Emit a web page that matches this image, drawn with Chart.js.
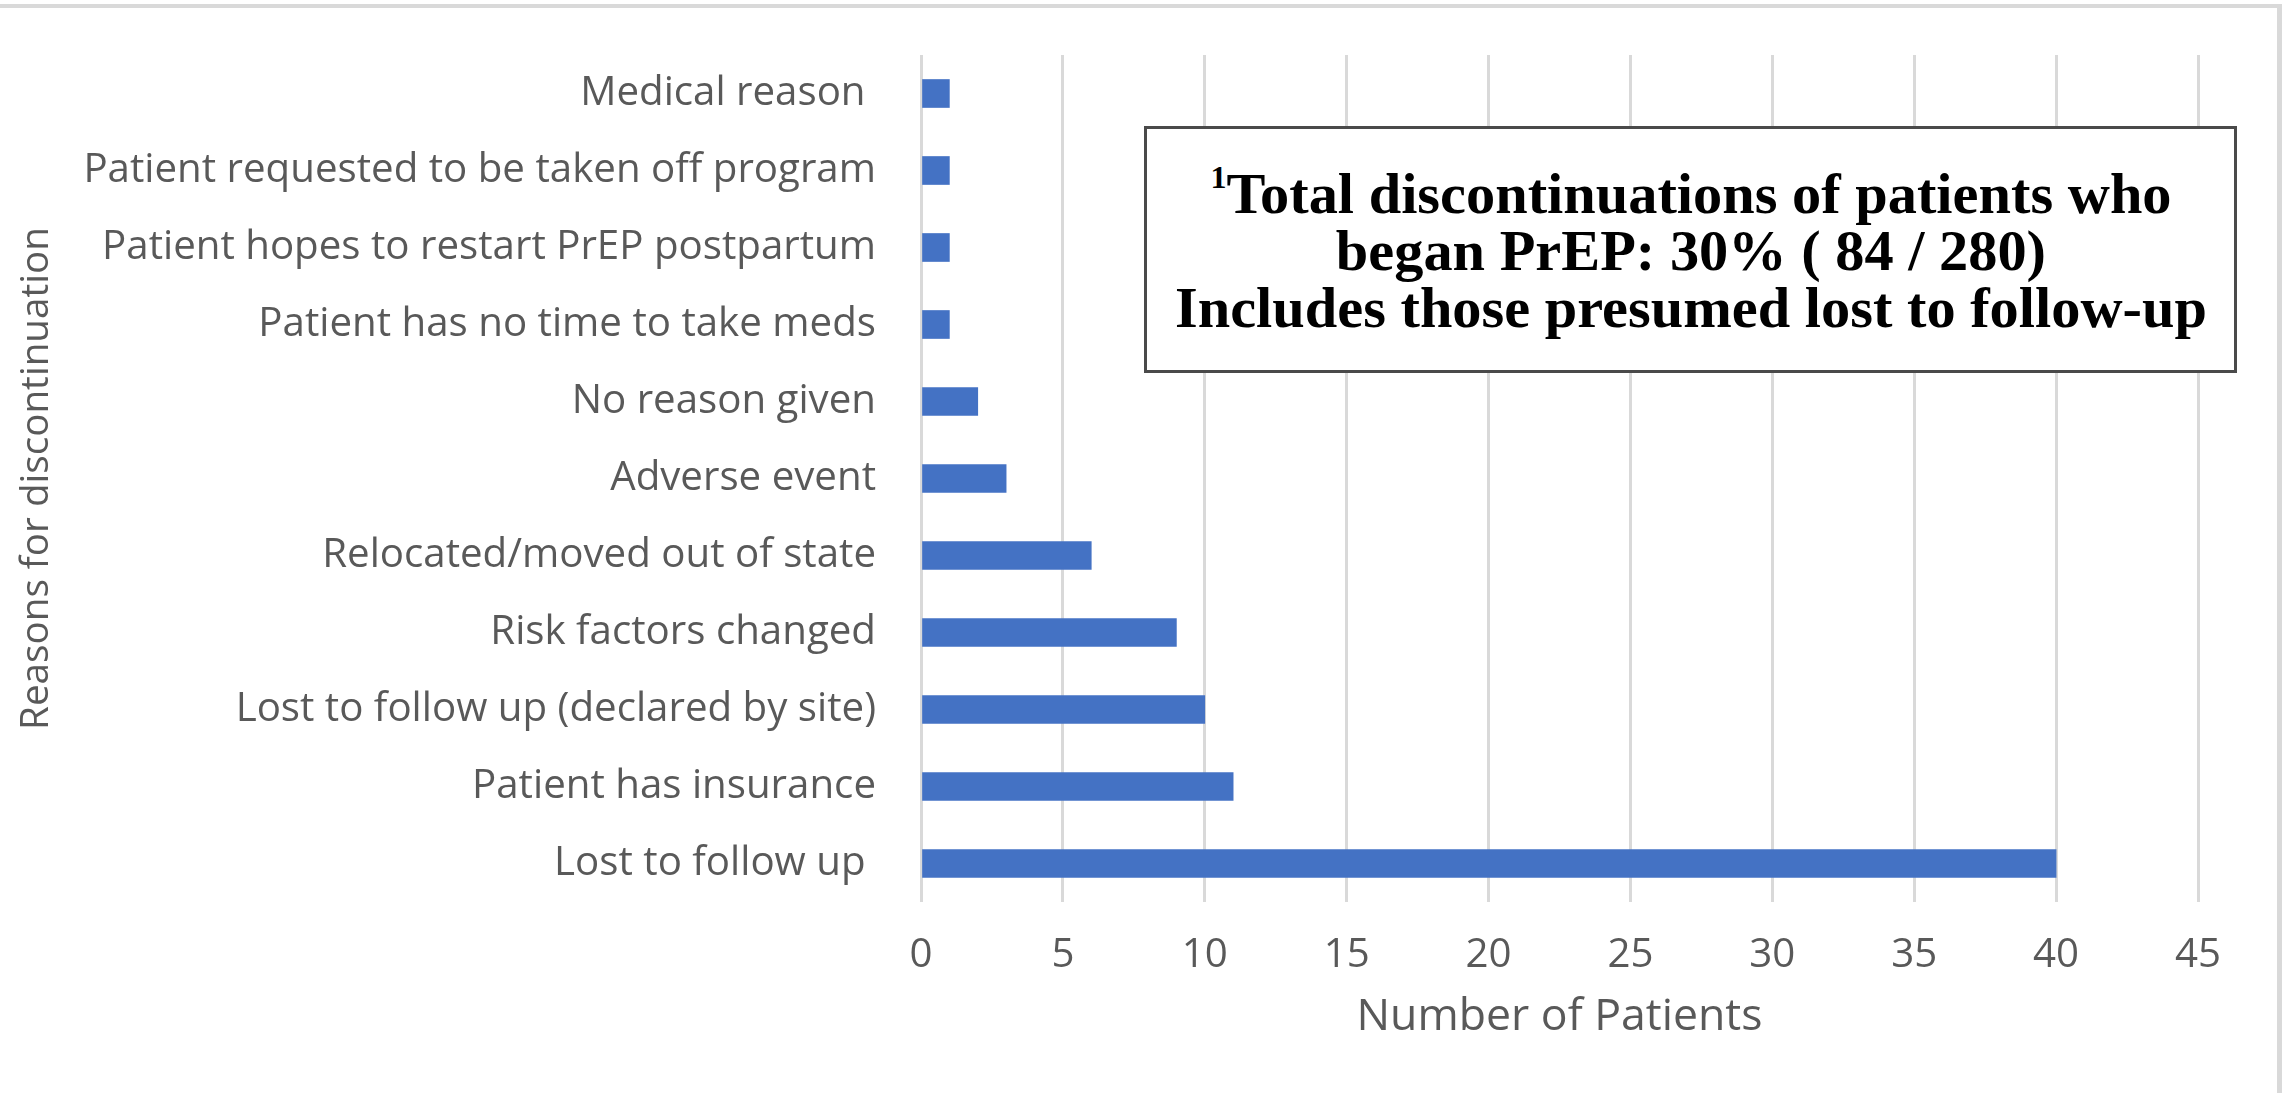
<!DOCTYPE html>
<html>
<head>
<meta charset="utf-8">
<script src="https://cdn.jsdelivr.net/npm/chart.js@4.4.0/dist/chart.umd.min.js"></script>
<style>
  html, body { margin: 0; padding: 0; background: #fff; }
  #wrap { position: relative; width: 2282px; height: 1093px; overflow: hidden; background: #fff; }
  #chart { position: absolute; left: 0; top: 0; }
  .frameTop { position: absolute; left: 0; top: 4px; width: 2282px; height: 4px; background: #d9d9d9; }
  .frameRight { position: absolute; left: 2277px; top: 4px; width: 5px; height: 1089px; background: #d9d9d9; }
  #note {
    position: absolute; left: 1144px; top: 126px; width: 1093px; height: 247px;
    box-sizing: border-box; border: 3px solid #4a4a4a; background: #fff;
    display: flex; align-items: center; justify-content: center;
  }
  #noteText {
    font-family: "Liberation Serif", serif; font-weight: bold; font-size: 56px;
    line-height: 57px; text-align: center; color: #000; white-space: nowrap;
    padding-top: 4px;
  }
  #noteText sup { font-size: 0.55em; line-height: 0; vertical-align: 0.8em; }
</style>
</head>
<body>
<div id="wrap">
  <canvas id="chart" width="2282" height="1093"></canvas>
  <div class="frameTop"></div>
  <div class="frameRight"></div>
  <div id="note">
    <div id="noteText">
      <div class="ln"><sup>1</sup>Total discontinuations of patients who</div>
      <div class="ln">began PrEP: 30% ( 84 / 280)</div>
      <div class="ln">Includes those presumed lost to follow-up</div>
    </div>
  </div>
</div>
<script>
// reasons, top to bottom as shown
const reasons = [
  'Medical reason ',
  'Patient requested to be taken off program',
  'Patient hopes to restart PrEP postpartum',
  'Patient has no time to take meds',
  'No reason given',
  'Adverse event',
  'Relocated/moved out of state',
  'Risk factors changed',
  'Lost to follow up (declared by site)',
  'Patient has insurance',
  'Lost to follow up '
];
const patients = [1, 1, 1, 1, 2, 3, 6, 9, 10, 11, 40];
const xMin = 0;
const xMax = 45;
const xStep = 5;

const grey = '#595959';
const family = 'Open Sans';

// size a font so the given text spans the given width
function fitSize(text, width, fam, weight) {
  const c = document.createElement('canvas').getContext('2d');
  c.font = (weight || 'normal') + ' 100px "' + fam + '"';
  return 100 * width / c.measureText(text).width;
}

const tickSize = fitSize('Patient requested to be taken off program', 793, family);
const yTitleSize = fitSize('Reasons for discontinuation', 503, family);
const xTitleSize = fitSize('Number of Patients', 406, family);

// squeeze the note text so its longest line matches
const noteText = document.getElementById('noteText');
const lines = noteText.querySelectorAll('.ln');
let widest = 0;
lines.forEach(l => {
  const r = document.createRange();
  r.selectNodeContents(l);
  widest = Math.max(widest, r.getBoundingClientRect().width);
});
noteText.style.transform = 'scaleX(' + (1032 / widest) + ')';

const ctx = document.getElementById('chart').getContext('2d');
new Chart(ctx, {
  type: 'bar',
  data: {
    labels: reasons,
    datasets: [{
      data: patients,
      backgroundColor: '#4472C4',
      barThickness: 28
    }]
  },
  options: {
    indexAxis: 'y',
    responsive: false,
    animation: false,
    layout: { padding: { top: 55, right: 84, left: 0, bottom: 0 } },
    plugins: {
      legend: { display: false },
      tooltip: { enabled: false }
    },
    scales: {
      x: {
        min: xMin,
        max: xMax,
        ticks: {
          stepSize: xStep,
          color: grey,
          font: { family: family, size: tickSize },
          padding: 956 - 902 - 0.6 * tickSize
        },
        grid: { color: '#d9d9d9', lineWidth: 3, drawTicks: false },
        border: { display: false },
        title: {
          display: true,
          text: 'Number of Patients',
          color: grey,
          font: { family: family, size: xTitleSize },
          padding: { top: 0, bottom: 76 - 0.6 * xTitleSize }
        },
        afterFit: s => { s.height = 1093 - 902; }
      },
      y: {
        ticks: {
          color: grey,
          font: { family: family, size: tickSize },
          padding: 45
        },
        grid: { display: false, drawTicks: false },
        border: { display: false },
        title: {
          display: true,
          text: 'Reasons for discontinuation',
          color: grey,
          font: { family: family, size: yTitleSize },
          padding: { top: 37 - 0.6 * yTitleSize, bottom: 0 }
        },
        // tick padding would otherwise push the plot top down
        afterFit: s => {
          s.width = 921;
          s.paddingTop = 0;
          s.paddingBottom = 0;
        }
      }
    }
  }
});
</script>
</body>
</html>
